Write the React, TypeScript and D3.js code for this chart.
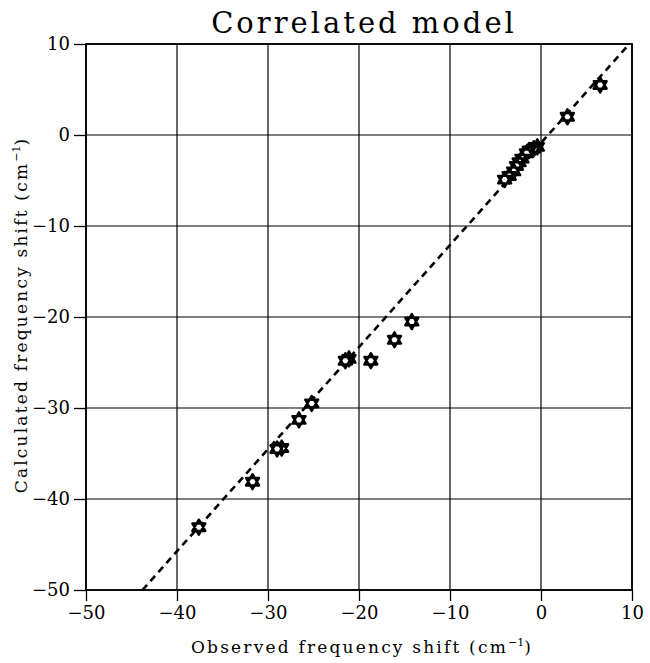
import * as d3 from "d3";
import { useEffect, useRef } from "react";

// Observed vs calculated frequency shifts (cm^-1).
const observed = [
  6.5, 2.9, -0.4, -0.8, -1.3, -1.6, -2.1, -2.4, -2.7, -3.0, -3.5, -4.0,
  -14.2, -16.1, -18.7, -21.1, -21.5, -25.2, -26.6, -28.5, -29.0, -31.7, -37.6,
];
const calculated = [
  5.5, 2.0, -1.3, -1.5, -1.7, -2.0, -2.6, -3.0, -3.4, -4.0, -4.5, -4.9,
  -20.5, -22.5, -24.8, -24.6, -24.8, -29.5, -31.3, -34.4, -34.5, -38.1, -43.1,
];
// Fitted trend line end points.
const fitX = [-43.8, 9.7];
const fitY = [-50, 10];

const ticks = [-50, -40, -30, -20, -10, 0, 10];

const W = 650;
const H = 663;
const M = { left: 86, right: 18, top: 44, bottom: 73 };
const SERIF = "'DejaVu Serif', 'Liberation Serif', serif";

// Six-pointed star (two overlapping triangles).
function hexagram(r: number) {
  const tri = (rot: number) =>
    d3.range(3).map((i) => {
      const a = rot + (i * 2 * Math.PI) / 3;
      return [Math.sin(a) * r, -Math.cos(a) * r];
    });
  const a = tri(0);
  const b = tri(Math.PI);
  return `M${a.join("L")}Z M${b.join("L")}Z`;
}

const App = () => {
  const svgRef = useRef<SVGSVGElement>(null);

  useEffect(() => {
    const svgEl = svgRef.current;
    if (!svgEl) return;
    const svg = d3.select(svgEl);
    svg.selectAll("*").remove();

    const x = d3.scaleLinear().domain([-50, 10]).range([M.left, W - M.right]);
    const y = d3.scaleLinear().domain([-50, 10]).range([H - M.bottom, M.top]);

    // grid
    const grid = svg.append("g").attr("stroke", "#000").attr("stroke-width", 1.2);
    ticks.forEach((t) => {
      grid.append("line")
        .attr("x1", x(t)).attr("x2", x(t))
        .attr("y1", y(-50)).attr("y2", y(10));
      grid.append("line")
        .attr("x1", x(-50)).attr("x2", x(10))
        .attr("y1", y(t)).attr("y2", y(t));
    });

    // frame
    svg.append("rect")
      .attr("x", x(-50)).attr("y", y(10))
      .attr("width", x(10) - x(-50)).attr("height", y(-50) - y(10))
      .attr("fill", "none").attr("stroke", "#000").attr("stroke-width", 1.8);

    const fmt = (d: d3.NumberValue) => String(d).replace("-", "\u2212");

    // axes
    const xAxis = svg.append("g")
      .attr("transform", `translate(0,${y(-50)})`)
      .call(d3.axisBottom(x).tickValues(ticks).tickSize(11).tickPadding(4).tickSizeOuter(0).tickFormat(fmt));
    xAxis.select(".domain").remove();
    xAxis.selectAll("line").attr("stroke", "#000").attr("stroke-width", 1.3);
    xAxis.selectAll("text")
      .attr("font-family", SERIF).attr("font-size", 18).attr("fill", "#000").attr("dy", "0.8em");

    const yAxis = svg.append("g")
      .attr("transform", `translate(${x(-50)},0)`)
      .call(d3.axisLeft(y).tickValues(ticks).tickSize(12).tickSizeOuter(0).tickFormat(fmt));
    yAxis.select(".domain").remove();
    yAxis.selectAll("line").attr("stroke", "#000").attr("stroke-width", 1.3);
    yAxis.selectAll("text")
      .attr("font-family", SERIF).attr("font-size", 18).attr("fill", "#000").attr("x", -16);

    // fit line
    svg.append("line")
      .attr("x1", x(fitX[0])).attr("y1", y(fitY[0]))
      .attr("x2", x(fitX[1])).attr("y2", y(fitY[1]))
      .attr("stroke", "#000").attr("stroke-width", 2.6)
      .attr("stroke-dasharray", "7,5");

    // points
    svg.append("g")
      .selectAll("path")
      .data(observed.map((o, i) => [o, calculated[i]]))
      .join("path")
      .attr("transform", (d) => `translate(${x(d[0])},${y(d[1])})`)
      .attr("d", hexagram(7.5))
      .attr("fill", "#fff")
      .attr("stroke", "#000")
      .attr("stroke-width", 2.4)
      .attr("stroke-linejoin", "round");

    // title & labels
    svg.append("text")
      .attr("x", 364).attr("y", 33)
      .attr("text-anchor", "middle")
      .attr("font-family", SERIF).attr("font-size", 29)
      .attr("letter-spacing", 3)
      .text("Correlated model");

    const xl = svg.append("text")
      .attr("x", 362).attr("y", 653)
      .attr("text-anchor", "middle")
      .attr("font-family", SERIF).attr("font-size", 17)
      .attr("letter-spacing", 2.2);
    xl.append("tspan").text("Observed frequency shift (cm");
    xl.append("tspan").attr("dy", -7).attr("font-size", 11).attr("letter-spacing", 0).text("\u22121");
    xl.append("tspan").attr("dy", 7).text(")");

    const yl = svg.append("text")
      .attr("transform", `translate(27,315) rotate(-90)`)
      .attr("text-anchor", "middle")
      .attr("font-family", SERIF).attr("font-size", 17)
      .attr("letter-spacing", 2.2);
    yl.append("tspan").text("Calculated frequency shift (cm");
    yl.append("tspan").attr("dy", -7).attr("font-size", 11).attr("letter-spacing", 0).text("\u22121");
    yl.append("tspan").attr("dy", 7).text(")");
  }, []);

  return (
    <svg
      ref={svgRef}
      width={W}
      height={H}
      style={{ position: "absolute", left: 0, top: 0, background: "#fff" }}
    />
  );
};

export default App;
